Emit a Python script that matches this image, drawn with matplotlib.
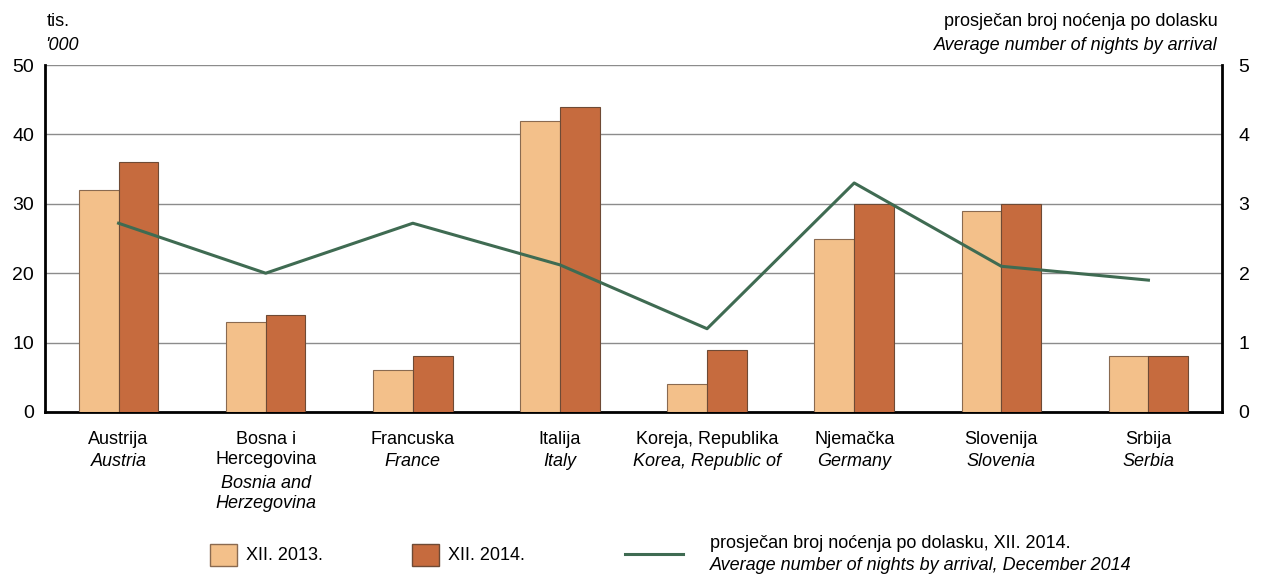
import matplotlib.pyplot as plt
from matplotlib.patches import Rectangle
from matplotlib.lines import Line2D
import numpy as np

# data
hr_names = ["Austrija", "Bosna i\nHercegovina", "Francuska", "Italija",
            "Koreja, Republika", "Njemačka", "Slovenija", "Srbija"]
en_names = ["Austria", "Bosnia and\nHerzegovina", "France", "Italy",
            "Korea, Republic of", "Germany", "Slovenia", "Serbia"]
dec_2013 = [32, 13, 6, 42, 4, 25, 29, 8]
dec_2014 = [36, 14, 8, 44, 9, 30, 30, 8]
avg_nights = [2.72, 2.0, 2.72, 2.12, 1.2, 3.3, 2.1, 1.9]

c13 = "#f3c08a"
c14 = "#c66b3e"
cline = "#3f6b52"
fam = ["Liberation Sans Narrow", "Liberation Sans", "DejaVu Sans"]
plt.rcParams["font.family"] = fam
fs = 13

fig = plt.figure(figsize=(12.64, 5.77), dpi=100)
ax = fig.add_axes([45 / 1264, 1 - 412 / 577, 1177 / 1264, 347 / 577])
x = np.arange(len(hr_names))
w = 0.27

ax.bar(x - w / 2, dec_2013, w, color=c13, edgecolor="#8a6a50", linewidth=0.8, zorder=3)
ax.bar(x + w / 2, dec_2014, w, color=c14, edgecolor="#6e4a35", linewidth=0.8, zorder=3)
ax.set_xlim(-0.5, len(hr_names) - 0.5)
ax.set_ylim(0, 50)
ax.set_yticks(range(0, 51, 10))
ax.yaxis.grid(True, color="#8c8c8c", linewidth=1.0, zorder=0)
ax.set_xticks([])
ax.tick_params(axis="y", length=0, labelsize=14, pad=8)
for s in ["left", "bottom"]:
    ax.spines[s].set_linewidth(2)
ax.spines["top"].set_visible(False)
ax.spines["right"].set_visible(False)

ax2 = ax.twinx()
ax2.plot(x, avg_nights, color=cline, linewidth=2.2, zorder=4)
ax2.set_ylim(0, 5)
ax2.set_yticks(range(0, 6))
ax2.tick_params(axis="y", length=0, labelsize=14, pad=12)
ax2.spines["right"].set_linewidth(2)
for s in ["left", "bottom", "top"]:
    ax2.spines[s].set_visible(False)

# category labels: croatian regular, english italic
for xi, hr, en in zip(x, hr_names, en_names):
    n_hr = hr.count("\n") + 1
    ax.text(xi, -0.055, hr, transform=ax.get_xaxis_transform(), ha="center",
            va="top", fontsize=fs, linespacing=1.2)
    ax.text(xi, -0.055 - n_hr * 0.0635, en, transform=ax.get_xaxis_transform(),
            ha="center", va="top", fontsize=fs, style="italic", linespacing=1.2)

# axis titles
fig.text(47 / 1264, 1 - 22 / 577, "tis.", fontsize=fs, va="center")
fig.text(45 / 1264, 1 - 46 / 577, "'000", fontsize=fs, style="italic", va="center")
fig.text(1218 / 1264, 1 - 21 / 577, "prosječan broj noćenja po dolasku",
         fontsize=fs, ha="right", va="center")
fig.text(1218 / 1264, 1 - 45 / 577, "Average number of nights by arrival",
         fontsize=fs, ha="right", va="center", style="italic")

# legend
fig.add_artist(Rectangle((210 / 1264, 1 - 566 / 577), 27 / 1264, 22 / 577,
                         transform=fig.transFigure, facecolor=c13, edgecolor="#8a6a50"))
fig.text(246 / 1264, 1 - 555 / 577, "XII. 2013.", fontsize=fs, va="center")
fig.add_artist(Rectangle((412 / 1264, 1 - 566 / 577), 27 / 1264, 22 / 577,
                         transform=fig.transFigure, facecolor=c14, edgecolor="#6e4a35"))
fig.text(448 / 1264, 1 - 555 / 577, "XII. 2014.", fontsize=fs, va="center")
fig.add_artist(Line2D([625 / 1264, 683 / 1264], [1 - 554 / 577, 1 - 554 / 577],
                      transform=fig.transFigure, color=cline, linewidth=2.2))
fig.text(710 / 1264, 1 - 544 / 577, "prosječan broj noćenja po dolasku, XII. 2014.",
         fontsize=fs, va="center")
fig.text(710 / 1264, 1 - 566 / 577, "Average number of nights by arrival, December 2014",
         fontsize=fs, va="center", style="italic")

fig.savefig("out.png", dpi=100)
